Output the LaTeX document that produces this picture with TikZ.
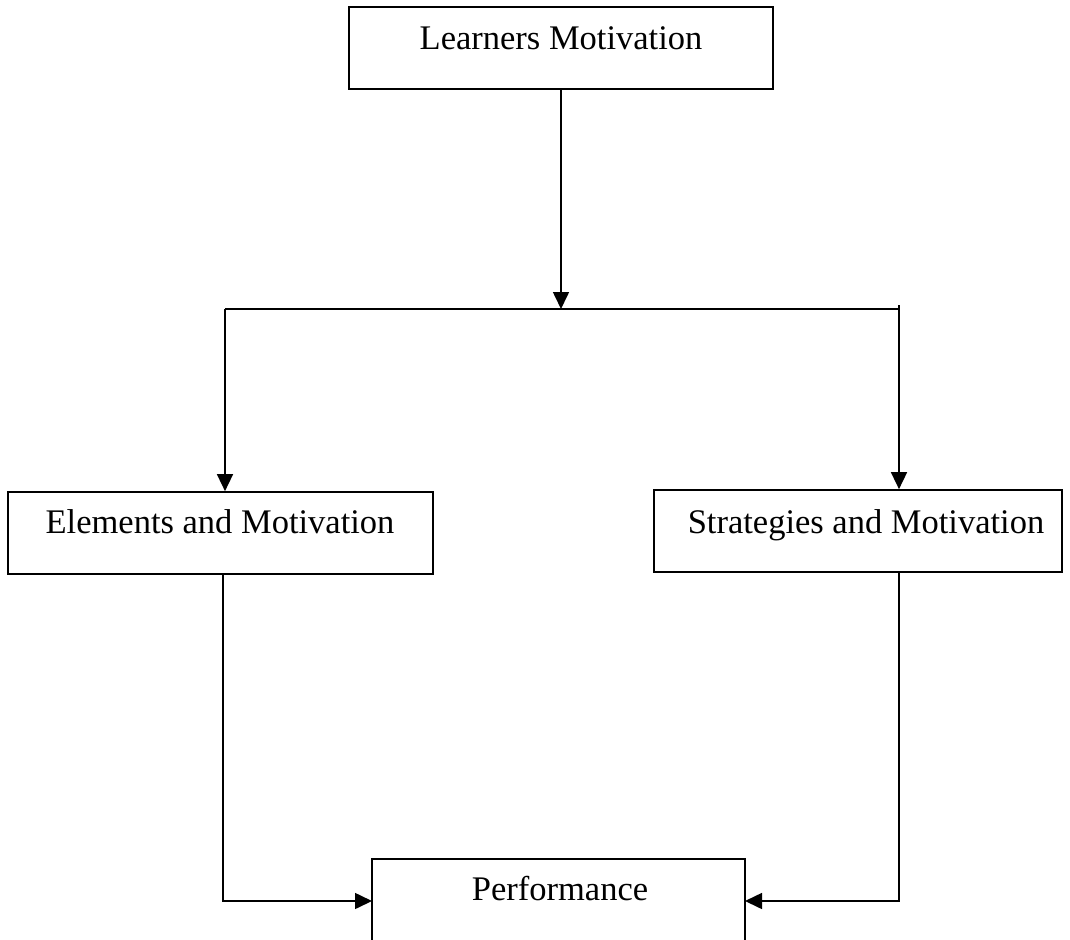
\documentclass[tikz,border=0pt]{standalone}
\usepackage{fontspec}
\setmainfont{Liberation Serif}
\usetikzlibrary{arrows.meta}
\begin{document}
\begin{tikzpicture}[x=1pt,y=-1pt,
  box/.style={draw=black,line width=1.7pt,rectangle,inner sep=0pt},
  lbl/.style={anchor=base,inner sep=0pt,font=\fontsize{34.5}{40}\selectfont},
  conn/.style={line width=1.6pt,-{Triangle[length=17pt,width=16pt]}},
  plain/.style={line width=1.6pt}]
\clip (0,0) rectangle (1070,939);
\fill[white] (0,0) rectangle (1070,939);
% boxes
\node[box,line width=2.2pt,minimum width=424pt,minimum height=82pt] (lm) at (561,48) {};
\node[lbl] (lmT) at (561,50) {Learners Motivation};
\node[box,minimum width=425pt,minimum height=82pt] (em) at (220.5,533) {};
\node[lbl] (emT) at (220,533) {Elements and Motivation};
\node[box,minimum width=408pt,minimum height=82pt] (sm) at (858,531) {};
\node[lbl] (smT) at (866,533) {Strategies and Motivation};
\node[box,minimum width=373pt,minimum height=100pt] (pf) at (558.5,909) {};
\node[lbl] (pfT) at (560,900) {Performance};
% junction
\coordinate (J) at (561,309);
\coordinate (JL) at (225,309);
\coordinate (JR) at (899,309);
\coordinate (JRt) at (899,305);
\draw[conn] (lm.south) -- (J);
\draw[plain] (JL) -- (JR) -- (JRt);
\draw[conn] (JL) -- (JL |- em.north);
\draw[conn] (JR) -- (JR |- sm.north);
% bottom connectors
\coordinate (EL) at (223,574);
\coordinate (SR) at (899,573);
\coordinate (PL) at (372,901);
\coordinate (PR) at (745,901);
\draw[conn] (EL) |- (PL);
\draw[conn] (SR) |- (PR);
\end{tikzpicture}
\end{document}
